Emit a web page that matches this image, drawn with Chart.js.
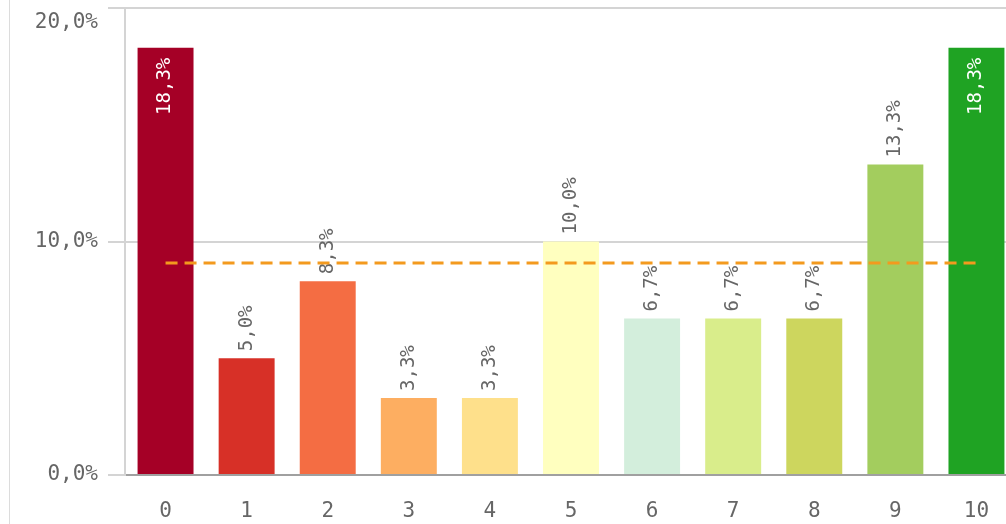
<!DOCTYPE html>
<html>
<head>
<meta charset="utf-8">
<script src="https://cdn.jsdelivr.net/npm/chart.js@4/dist/chart.umd.min.js"></script>
<style>
    html, body { margin: 0; padding: 0; background: #fff; overflow: hidden; }
    #wrap { position: relative; width: 1017px; height: 524px; }
</style>
</head>
<body>
<div id="wrap"><canvas id="chart"></canvas></div>
<script>
// Score distribution 0..10 (share of answers, %)
const categories = ['0', '1', '2', '3', '4', '5', '6', '7', '8', '9', '10'];
const shares = [18.3, 5.0, 8.3, 3.3, 3.3, 10.0, 6.7, 6.7, 6.7, 13.3, 18.3];
const barColors = [
    '#a50026', '#d73027', '#f46d43', '#fdae61', '#fee08b', '#ffffbf',
    '#d3eedc', '#d9ed8b', '#cdd65e', '#a3cd5e', '#1fa323'
];
const yTicks = [0, 10, 20];
const yMax = 20;

const FONT = '"DejaVu Sans Mono", monospace';
const TEXT = '#666666';
const fmt = v => v.toFixed(1).replace('.', ',') + '%';

// Thin frame line on the far left, top y label pushed inside,
// dashed mean line and rotated value labels
const extras = {
    id: 'extras',
    beforeDraw(chart) {
        const ctx = chart.ctx;
        ctx.save();
        ctx.strokeStyle = '#dcdcdc';
        ctx.lineWidth = 1;
        ctx.beginPath();
        ctx.moveTo(9.5, 0);
        ctx.lineTo(9.5, chart.height);
        ctx.stroke();
        ctx.restore();
    },
    afterDraw(chart) {
        // the top tick label would be cut off, so it sits just under its grid line
        const ctx = chart.ctx;
        const y = chart.scales.y;
        ctx.save();
        ctx.font = '21px ' + FONT;
        ctx.fillStyle = TEXT;
        ctx.textAlign = 'right';
        ctx.textBaseline = 'middle';
        ctx.fillText(fmt(yMax), y.right - 27, y.getPixelForValue(yMax) + 15);
        ctx.restore();
    },
    afterDatasetsDraw(chart) {
        const ctx = chart.ctx;
        const y = chart.scales.y;
        const bars = chart.getDatasetMeta(0).data;

        // value labels
        ctx.save();
        ctx.font = '19px ' + FONT;
        ctx.textBaseline = 'middle';
        bars.forEach((b, i) => {
            const v = shares[i];
            const inside = v > 15;
            ctx.save();
            ctx.translate(b.x, b.y);
            ctx.rotate(-Math.PI / 2);
            if (inside) {
                ctx.fillStyle = '#ffffff';
                ctx.textAlign = 'right';
                ctx.fillText(fmt(v), -10, 0);
            } else {
                ctx.fillStyle = TEXT;
                ctx.textAlign = 'left';
                ctx.fillText(fmt(v), 7, 0);
            }
            ctx.restore();
        });
        ctx.restore();

        // mean line
        const avg = shares.reduce((a, b) => a + b, 0) / shares.length;
        const yy = y.getPixelForValue(avg);
        ctx.save();
        ctx.strokeStyle = '#f39a1e';
        ctx.lineWidth = 3;
        ctx.setLineDash([12, 7]);
        ctx.beginPath();
        ctx.moveTo(bars[0].x, yy);
        ctx.lineTo(bars[bars.length - 1].x, yy);
        ctx.stroke();
        ctx.restore();
    }
};

new Chart(document.getElementById('chart'), {
    type: 'bar',
    data: {
        labels: categories,
        datasets: [{
            data: shares,
            backgroundColor: barColors,
            borderWidth: 0,
            categoryPercentage: 1,
            barPercentage: 0.69
        }]
    },
    options: {
        responsive: true,
        maintainAspectRatio: false,
        animation: false,
        layout: { padding: { top: 8, left: 0, right: 0, bottom: 0 } },
        plugins: {
            legend: { display: false },
            tooltip: { enabled: false }
        },
        scales: {
            x: {
                afterFit(scale) {
                    scale.height = 49;
                    scale.paddingLeft = 0;
                    scale.paddingRight = 0;
                },
                grid: { display: false, drawTicks: false },
                border: { color: '#a0a0a0', width: 2 },
                ticks: {
                    color: TEXT,
                    font: { family: FONT, size: 21 },
                    padding: 24,
                    maxRotation: 0
                }
            },
            y: {
                min: 0,
                max: yMax,
                afterFit(scale) {
                    scale.width = 125;
                    scale.paddingTop = 0;
                    scale.paddingBottom = 0;
                },
                afterBuildTicks(scale) { scale.ticks = yTicks.map(v => ({ value: v })); },
                grid: { color: '#d4d4d4', lineWidth: 2, tickLength: 17 },
                border: { color: '#d4d4d4', width: 2 },
                ticks: {
                    color: c => (c.tick && c.tick.value === yMax) ? 'rgba(0,0,0,0)' : TEXT,
                    font: { family: FONT, size: 21 },
                    padding: 10,
                    callback: v => fmt(v)
                }
            }
        }
    },
    plugins: [extras]
});
</script>
</body>
</html>
